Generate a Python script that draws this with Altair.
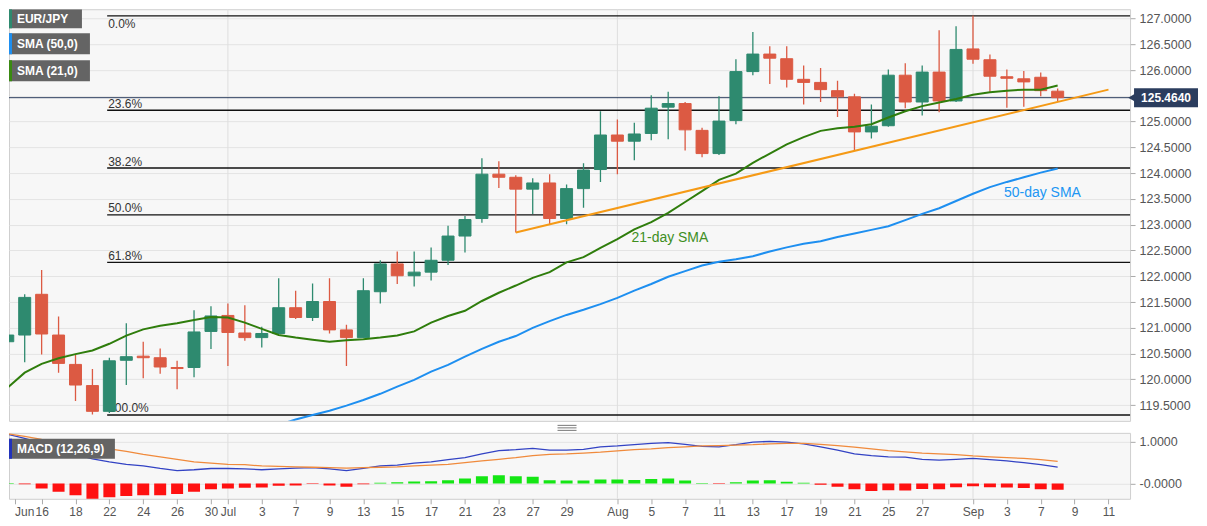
import altair as alt
import pandas as pd

FONT = "Liberation Sans"
GREEN_C = "#2e8a6f"
RED_C = "#dc5a43"

# trading-day index: 0 = 12 Jun 2020 ... 62 = 8 Sep 2020
opens = [120.73, 120.86, 121.65, 120.86, 120.29, 119.88, 119.38, 120.37, 120.45, 120.42,
         120.23, 120.23, 120.93, 121.24, 120.90, 120.81, 120.89, 121.39, 121.20, 121.51,
         120.96, 120.81, 121.70, 122.24, 122.01, 122.08, 122.31, 122.78, 123.12, 123.98,
         123.92, 123.69, 123.81, 123.12, 123.70, 124.07, 124.74, 124.62, 124.77, 125.28,
         125.35, 124.83, 124.38, 125.02, 125.97, 126.31, 126.22, 125.82, 125.76, 125.60,
         125.48, 124.80, 124.92, 125.90, 125.38, 125.96, 125.40, 126.41, 126.20, 125.87,
         125.83, 125.86, 125.59]
highs = [121.81, 121.65, 122.12, 121.22, 120.49, 120.20, 120.42, 121.09, 120.73, 120.60,
         120.36, 121.34, 121.42, 121.47, 121.44, 121.02, 121.96, 121.72, 121.86, 121.96,
         121.06, 121.96, 122.31, 122.48, 122.48, 122.56, 122.98, 123.17, 124.29, 124.23,
         123.96, 123.90, 123.98, 123.78, 124.19, 125.20, 125.04, 124.98, 125.51, 125.58,
         125.38, 124.88, 125.49, 126.21, 126.74, 126.46, 126.46, 126.09, 126.04, 125.79,
         125.54, 125.33, 126.01, 126.13, 126.09, 126.77, 126.85, 127.06, 126.30, 126.01,
         125.98, 125.95, 125.64]
lows = [120.26, 120.33, 120.48, 120.13, 119.58, 119.32, 119.35, 119.89, 120.02, 120.11,
        119.81, 120.04, 120.59, 120.26, 120.75, 120.62, 120.88, 121.17, 121.13, 120.89,
        120.26, 120.81, 121.47, 121.85, 121.80, 121.92, 122.22, 122.46, 123.04, 123.71,
        122.85, 123.21, 123.01, 123.01, 123.33, 123.83, 123.98, 124.25, 124.64, 124.66,
        124.44, 124.31, 124.35, 124.95, 125.90, 125.73, 125.66, 125.33, 125.38, 125.09,
        124.44, 124.67, 124.90, 125.26, 125.12, 125.18, 125.38, 126.12, 125.58, 125.27,
        125.29, 125.49, 125.40]
closes = [120.86, 121.59, 120.88, 120.31, 119.89, 119.38, 120.36, 120.44, 120.42, 120.24,
          120.21, 120.92, 121.23, 120.91, 120.81, 120.89, 121.39, 121.20, 121.51, 120.96,
          120.81, 121.72, 122.24, 122.01, 122.08, 122.31, 122.78, 123.10, 123.98, 123.92,
          123.69, 123.81, 123.12, 123.70, 124.06, 124.74, 124.62, 124.76, 125.26, 125.35,
          124.84, 124.38, 125.01, 125.97, 126.31, 126.23, 125.82, 125.76, 125.62, 125.48,
          124.80, 124.91, 125.90, 125.38, 125.96, 125.40, 126.40, 126.21, 125.88, 125.84,
          125.77, 125.60, 125.464]

sma21 = [119.84, 120.13, 120.30, 120.41, 120.49, 120.56, 120.69, 120.85, 120.97, 121.04,
         121.09, 121.15, 121.21, 121.20, 121.10, 120.98, 120.86, 120.81, 120.77, 120.73,
         120.76, 120.78, 120.81, 120.85, 120.93, 121.10, 121.23, 121.33, 121.52, 121.68,
         121.82, 121.97, 122.08, 122.27, 122.37, 122.55, 122.72, 122.91, 123.05, 123.23,
         123.44, 123.65, 123.87, 123.99, 124.20, 124.38, 124.56, 124.70, 124.82, 124.87,
         124.90, 124.95, 125.08, 125.20, 125.30, 125.37, 125.44, 125.52, 125.57, 125.60,
         125.62, 125.62, 125.70]

sma50_first = 16
sma50 = [119.12, 119.22, 119.31, 119.39, 119.49, 119.60, 119.72, 119.86, 119.99, 120.15,
         120.28, 120.44, 120.59, 120.73, 120.84, 121.00, 121.13, 121.25, 121.35, 121.46,
         121.58, 121.72, 121.85, 121.99, 122.10, 122.21, 122.28, 122.33, 122.39, 122.48,
         122.56, 122.63, 122.68, 122.76, 122.83, 122.90, 122.97, 123.09, 123.21, 123.32,
         123.46, 123.60, 123.73, 123.83, 123.92, 124.01, 124.09]

macd = [1.18, 1.08, 0.96, 0.83, 0.70, 0.59, 0.52, 0.46, 0.42, 0.36,
        0.31, 0.33, 0.36, 0.36, 0.35, 0.33, 0.35, 0.37, 0.38, 0.35,
        0.31, 0.36, 0.42, 0.44, 0.49, 0.52, 0.57, 0.62, 0.71, 0.79,
        0.81, 0.84, 0.80, 0.80, 0.82, 0.88, 0.90, 0.93, 0.96, 0.98,
        0.94, 0.89, 0.88, 0.93, 0.99, 1.01, 0.99, 0.95, 0.88, 0.80,
        0.71, 0.67, 0.64, 0.63, 0.58, 0.56, 0.58, 0.60, 0.57, 0.54,
        0.50, 0.45, 0.39]
signal = [1.19, 1.13, 1.06, 1.00, 0.94, 0.88, 0.83, 0.77, 0.70, 0.64,
          0.58, 0.52, 0.49, 0.46, 0.45, 0.42, 0.41, 0.40, 0.39, 0.38,
          0.37, 0.38, 0.39, 0.40, 0.42, 0.44, 0.46, 0.50, 0.54, 0.58,
          0.62, 0.67, 0.70, 0.71, 0.73, 0.75, 0.78, 0.81, 0.83, 0.86,
          0.88, 0.90, 0.91, 0.92, 0.93, 0.95, 0.96, 0.96, 0.94, 0.91,
          0.87, 0.83, 0.79, 0.76, 0.73, 0.71, 0.69, 0.66, 0.64, 0.62,
          0.60, 0.57, 0.53]
hist = [0.01, -0.02, -0.12, -0.20, -0.28, -0.37, -0.33, -0.30, -0.28, -0.28,
        -0.25, -0.20, -0.14, -0.12, -0.10, -0.095, -0.055, -0.05, -0.015, -0.05,
        -0.08, -0.02, 0.02, 0.03, 0.05, 0.055, 0.08, 0.12, 0.175, 0.20,
        0.175, 0.16, 0.08, 0.07, 0.07, 0.095, 0.095, 0.085, 0.11, 0.12,
        0.07, 0.01, -0.015, 0.03, 0.07, 0.08, 0.04, 0.015, -0.03, -0.08,
        -0.14, -0.18, -0.16, -0.17, -0.13, -0.14, -0.09, -0.065, -0.09, -0.095,
        -0.11, -0.135, -0.15]

tick_idx = [0.4, 2, 4, 6, 8, 10, 12, 13, 15, 17, 19, 21, 23, 25, 27, 29, 31, 33,
            36, 38, 40, 42, 44, 46, 48, 50, 52, 54, 57, 59, 61, 63, 65]
tick_lbl = ["Jun", "16", "18", "22", "24", "26", "30", "Jul", "3", "7", "9", "13", "15",
            "17", "21", "23", "27", "29", "Aug", "5", "7", "11", "13", "17", "19", "21",
            "25", "27", "Sep", "3", "7", "9", "11"]
month_idx = [13, 36, 57]

price_ticks = [119.5, 120.0, 120.5, 121.0, 121.5, 122.0, 122.5, 123.0, 123.5, 124.0,
               124.5, 125.0, 125.5, 126.0, 126.5, 127.0]
macd_ticks = [0.0, 1.0]

fib_names = ["0.0%", "23.6%", "38.2%", "50.0%", "61.8%", "100.0%"]
fib_levels = [127.05, 125.22, 124.10, 123.19, 122.27, 119.31]
fib_start = 5.87

trend_i = [30, 65]
trend_p = [122.85, 125.62]
last_price = 125.464

note_text = ["21-day SMA", "50-day SMA"]
note_i = [39.1, 61.1]
note_p = [122.74, 123.61]

legend_names = ["EUR/JPY", "SMA (50,0)", "SMA (21,0)"]

# ---------------------------------------------------------------- scales
XS = alt.Scale(domain=[0.368, 65.98], nice=False, zero=False)
YP = alt.Scale(domain=[119.195, 127.18], nice=False, zero=False)
YM = alt.Scale(domain=[-0.367, 1.214], nice=False, zero=False)

AXP = alt.Axis(orient="right", values=price_ticks, title=None,
               labelExpr="datum.value == 125.5 ? '' : format(datum.value, '.4f')",
               labelColor="#555555", labelFontSize=12.5, labelFont=FONT,
               tickColor="#aaaaaa", tickSize=5, labelPadding=4, domain=False,
               grid=True, gridColor="#e4e4e4", labelOverlap=False)
AXM = alt.Axis(orient="right", values=macd_ticks, title=None,
               labelExpr="datum.value == 0 ? '-0.0000' : format(datum.value, '.4f')",
               labelColor="#555555", labelFontSize=12.5, labelFont=FONT,
               tickColor="#aaaaaa", tickSize=5, labelPadding=4, domain=False,
               grid=True, gridColor="#e4e4e4", labelOverlap=False)
lbl_by_index = [""] * 67
for v, t in zip(tick_idx, tick_lbl):
    lbl_by_index[int(round(v))] = t
lbl_js = "[" + ",".join("'" + s + "'" for s in lbl_by_index) + "]"
AXX = alt.Axis(values=tick_idx, labelExpr=lbl_js + "[round(datum.value)]", title=None,
               grid=False, tickSize=5, tickColor="#aaaaaa", labelColor="#555555",
               labelFontSize=12, labelFont=FONT, domain=False,
               labelAlign={"condition": {"test": "datum.value < 1", "value": "left"},
                           "value": "center"},
               labelPadding=3, labelOverlap=False)

W = 1122
HP = 412
HM = 66

# ---------------------------------------------------------------- data frames
idx = list(range(len(opens)))
cdf = pd.DataFrame({"i": idx, "open": opens, "high": highs, "low": lows, "close": closes})
cdf["dir"] = ["up" if c >= o else "down" for o, c in zip(opens, closes)]
dir_scale = alt.Scale(domain=["up", "down"], range=[GREEN_C, RED_C])

s21 = pd.DataFrame({"i": idx, "v": sma21})
s50 = pd.DataFrame({"i": list(range(sma50_first, sma50_first + len(sma50))), "v": sma50})
fdf = pd.DataFrame({"name": fib_names, "p": fib_levels, "x0": [fib_start] * len(fib_names),
                    "x1": [70] * len(fib_names), "top": [k == 0 for k in range(len(fib_names))]})
tdf = pd.DataFrame({"i": trend_i, "p": trend_p})
mdf = pd.DataFrame({"i": month_idx})
ndf = pd.DataFrame({"t": note_text, "i": note_i, "p": note_p,
                    "c": ["#3f8f1f", "#2196f3"]})
pdf = pd.DataFrame({"p": [last_price]})

X = alt.X("i:Q", scale=XS, axis=None)


def YPc(field):
    return alt.Y(field, type="quantitative", scale=YP, axis=AXP)


month_rules_p = alt.Chart(mdf).mark_rule(color="#dedede", strokeWidth=1, clip=True).encode(x=X)

fib_rules = alt.Chart(fdf).mark_rule(color="#111111", strokeWidth=1.4, clip=True).encode(
    x=alt.X("x0:Q", scale=XS, axis=None), x2="x1:Q", y=YPc("p"))
fib_text = alt.Chart(fdf).transform_filter("!datum.top").mark_text(
    align="left", baseline="alphabetic", dy=-2.5, dx=1,
    fontSize=12, font=FONT, color="#333333", clip=True).encode(
    x=alt.X("x0:Q", scale=XS, axis=None), y=YPc("p"), text="name:N")
fib_text_top = alt.Chart(fdf).transform_filter("datum.top").mark_text(
    align="left", baseline="top", dy=3, dx=1,
    fontSize=12, font=FONT, color="#333333", clip=True).encode(
    x=alt.X("x0:Q", scale=XS, axis=None), y=YPc("p"), text="name:N")

price_line = alt.Chart(pdf).mark_rule(color="#2b3d5e", strokeWidth=1, clip=True).encode(y=YPc("p"))

wicks = alt.Chart(cdf).mark_rule(strokeWidth=1.3, clip=True).encode(
    x=X, y=YPc("low"), y2="high:Q",
    color=alt.Color("dir:N", scale=dir_scale, legend=None))
bodies = alt.Chart(cdf).mark_bar(size=12, strokeWidth=1, clip=True).encode(
    x=X, y=YPc("open"), y2="close:Q",
    fill=alt.Fill("dir:N", scale=dir_scale, legend=None),
    stroke=alt.Stroke("dir:N", scale=dir_scale, legend=None))

l50 = alt.Chart(s50).mark_line(color="#1e8ff0", strokeWidth=2, clip=True).encode(x=X, y=YPc("v"))
l21 = alt.Chart(s21).mark_line(color="#2f7d0c", strokeWidth=2, clip=True).encode(x=X, y=YPc("v"))
trend = alt.Chart(tdf).mark_line(color="#f59a16", strokeWidth=2, clip=True).encode(x=X, y=YPc("p"))

notes = alt.Chart(ndf).mark_text(fontSize=14, font=FONT, baseline="middle", align="center",
                                 clip=True).encode(
    x=X, y=YPc("p"), text="t:N", color=alt.Color("c:N", scale=None))


def legend_box(label, x1, y0, y1, strip):
    d = pd.DataFrame({"t": [label]})
    b = alt.Chart(d)
    box = b.mark_rect(color="#646464", clip=True).encode(
        x=alt.value(0), x2=alt.value(x1), y=alt.value(y0), y2=alt.value(y1))
    st = b.mark_rect(color=strip, clip=True).encode(
        x=alt.value(0), x2=alt.value(3), y=alt.value(y0), y2=alt.value(y1))
    tx = b.mark_text(align="left", baseline="middle", color="white", fontWeight="bold",
                     fontSize=12, font=FONT, clip=True).encode(
        x=alt.value(8), y=alt.value((y0 + y1) / 2 + 0.5), text="t:N")
    return [box, st, tx]


leg = (legend_box(legend_names[0], 73, 0, 19, "#2e8a6f")
       + legend_box(legend_names[1], 81, 24, 45, "#1e8ff0")
       + legend_box(legend_names[2], 81, 51, 72, "#3a8a12"))

tag_box = alt.Chart(pdf).mark_tick(orient="horizontal", size=64, thickness=19,
                                   color="#2b3d5e", opacity=1).encode(
    x=alt.value(1158), y=YPc("p"))
tag_tri = alt.Chart(pdf).mark_point(shape="triangle-left", filled=True, size=60,
                                    color="#2b3d5e", opacity=1).encode(
    x=alt.value(1123.5), y=YPc("p"))
tag_txt = alt.Chart(pdf).mark_text(color="white", fontWeight="bold", fontSize=12, font=FONT,
                                   align="center", baseline="middle").encode(
    x=alt.value(1158), y=YPc("p"), text=alt.Text("p:Q", format=".4f"))

hd = pd.DataFrame({"k": [0]})
handle = [alt.Chart(hd).mark_rule(color="#777777", strokeWidth=1).encode(
    x=alt.value(549), x2=alt.value(568), y=alt.value(yv)) for yv in (HP + 4.5, HP + 7, HP + 9.5)]

price_panel = alt.layer(
    month_rules_p, fib_rules, fib_text, fib_text_top, price_line, wicks, bodies, l50, l21,
    trend, notes, *leg, tag_box, tag_tri, tag_txt, *handle
).properties(width=W, height=HP)

# ---------------------------------------------------------------- MACD panel
mdd = pd.DataFrame({"i": idx, "macd": macd, "signal": signal, "h": hist})
mdd["sign"] = ["pos" if v >= 0 else "neg" for v in hist]
XM = alt.X("i:Q", scale=XS, axis=AXX)


def YMc(field):
    return alt.Y(field, type="quantitative", scale=YM, axis=AXM)


month_rules_m = alt.Chart(mdf).mark_rule(color="#dedede", strokeWidth=1, clip=True).encode(x=XM)
bars = alt.Chart(mdd).mark_bar(size=12, clip=True).encode(
    x=XM, y=YMc("h"), y2=alt.datum(0),
    color=alt.Color("sign:N", scale=alt.Scale(domain=["pos", "neg"], range=["#14e614", "#ff1111"]),
                    legend=None))
mline = alt.Chart(mdd).mark_line(color="#3343c4", strokeWidth=1.3, clip=True).encode(x=XM, y=YMc("macd"))
sline = alt.Chart(mdd).mark_line(color="#f08a3c", strokeWidth=1.3, clip=True).encode(x=XM, y=YMc("signal"))
macd_leg = legend_box("MACD (12,26,9)", 106, 6, 26, "#2233bb")

macd_panel = alt.layer(month_rules_m, bars, mline, sline, *macd_leg).properties(width=W, height=HM)

chart = alt.vconcat(price_panel, macd_panel, spacing=12, bounds="flush").resolve_scale(
    x="independent", y="independent", color="independent", fill="independent",
    stroke="independent"
).properties(padding={"left": 0, "top": 0, "right": 0, "bottom": 0}, background="#ffffff"
).configure_view(fill="#f7f7f7", stroke="#cfcfcf").configure_text(font=FONT)

chart.save("out.html", embed_options={"renderer": "svg", "actions": False})
